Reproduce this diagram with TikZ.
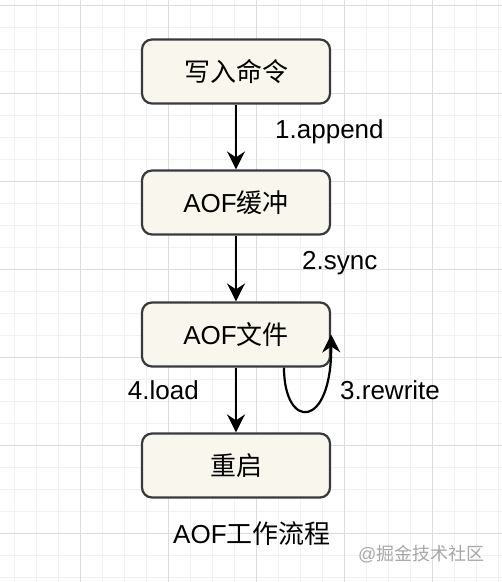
\documentclass[tikz,border=0pt]{standalone}
\usepackage{fontspec}
\setmainfont{Liberation Sans}
\newfontfamily\cjk{Noto Sans CJK SC}
\usetikzlibrary{arrows.meta,positioning}
\definecolor{boxfill}{HTML}{F9F7ED}
\definecolor{boxline}{HTML}{36393D}
\definecolor{gridminor}{HTML}{F1F1F1}
\definecolor{gridmajor}{HTML}{DCDCDC}
\tikzset{stage/.style={rectangle,rounded corners=10pt,draw=boxline,fill=boxfill,line width=2.2pt,minimum width=188pt,minimum height=64pt,inner sep=0pt,font=\fontsize{26}{30}\selectfont},
  flow/.style={-{Stealth[length=18pt,width=18pt,inset=6pt]},line width=2.2pt,black},
  tag/.style={anchor=base west,inner sep=0pt,font=\fontsize{26}{30}\selectfont}}

\begin{document}
\begin{tikzpicture}[x=1pt,y=-1pt]
\useasboundingbox (0,0) rectangle (502,582);
% \draw[help lines] (0,0) grid (502,582);
\foreach \x in {14,36,...,502} \draw[gridminor,line width=1pt] (\x,0) -- (\x,582);
\foreach \y in {5,27,...,582} \draw[gridminor,line width=1pt] (0,\y) -- (502,\y);
\foreach \x in {80,168,...,502} \draw[gridmajor,line width=1pt] (\x,0) -- (\x,582);
\foreach \y in {5,93,...,582} \draw[gridmajor,line width=1pt] (0,\y) -- (502,\y);
%
\node (cmd) [stage] at (236,71.5) {\cjk 写入命令};
\node (buf) [stage] at (236,202.5) {AOF{\cjk 缓冲}};
\node (aof) [stage] at (236,334.5) {AOF{\cjk 文件}};
\node (boot) [stage] at (236,465.5) {\cjk 重启};
%
\path[flow] (cmd) edge (buf);
\path[flow] (buf) edge (aof);
\path[flow] (aof) edge (boot);
\draw[flow] ([xshift=48pt]aof.south) .. controls +(0,63) and (332,430) .. (aof.east);
%
\node (l1) [tag] at (275,138) {1.append};
\node (l2) [tag] at (302,269) {2.sync};
\node (l3) [tag] at (340,399) {3.rewrite};
\node (l4) [tag,anchor=base east] at (199,399) {4.load};
\node (title) [tag] at (173,543) {AOF{\cjk 工作流程}};
\node (mark) [tag,font=\fontsize{18}{20}\selectfont,text=black!35] at (358,560) {@{\cjk 掘金技术社区}};
\end{tikzpicture}
\end{document}
